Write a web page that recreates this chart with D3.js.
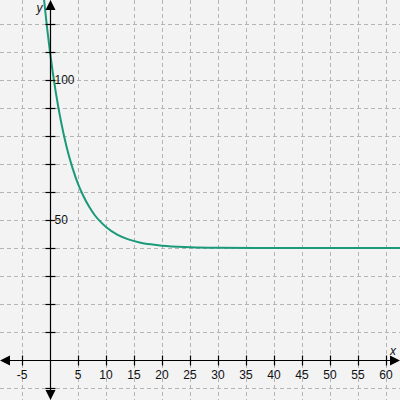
<!DOCTYPE html>
<html>
<head>
<meta charset="utf-8">
<script src="https://cdn.jsdelivr.net/npm/d3@7"></script>
<style>
  html, body { margin: 0; padding: 0; background: #f3f3f3; }
  svg { display: block; }
  text { font-family: "Liberation Sans", Arial, sans-serif; font-size: 12px; fill: #111; }
</style>
</head>
<body>
<div id="chart"></div>
<script>
// values
const curveX = [-1.1, -1, 0, 1, 2, 3, 4, 5, 6, 7, 8, 9, 10, 12, 14, 16, 18, 20, 25, 30, 40, 50, 62.5];
const curveY = [129.5, 127.5, 110, 96, 84.8, 75.8, 68.7, 62.9, 58.4, 54.7, 51.7, 49.4, 47.5, 44.8, 43.1, 42.0, 41.3, 40.8, 40.3, 40.1, 40, 40, 40];

const xTicks = [-5, 5, 10, 15, 20, 25, 30, 35, 40, 45, 50, 55, 60];
const xGrid = [-5, 0, 5, 10, 15, 20, 25, 30, 35, 40, 45, 50, 55, 60];
const yGrid = [-10, 10, 20, 30, 40, 50, 60, 70, 80, 90, 100, 110, 120];
const yTicks = [-10, 10, 20, 30, 40, 50, 60, 70, 80, 90, 100, 110, 120];
const yLabels = [50, 100];

const W = 400, H = 400;

const x = d3.scaleLinear().domain([-50 / 5.6, 350 / 5.6]).range([0, W]);
const y = d3.scaleLinear().domain([-40 / 2.8, 360 / 2.8]).range([H, 0]);

const svg = d3.select("#chart").append("svg")
  .attr("width", W).attr("height", H);

svg.append("rect").attr("width", W).attr("height", H).attr("fill", "#f3f3f3");

// dashed grid
const grid = svg.append("g")
  .attr("stroke", "#b4b4b4")
  .attr("stroke-width", 1)
  .attr("stroke-dasharray", "4,3");

grid.selectAll("line.v").data(xGrid).join("line")
  .attr("class", "v")
  .attr("x1", (d) => Math.round(x(d)) + 0.5).attr("x2", (d) => Math.round(x(d)) + 0.5)
  .attr("y1", 0).attr("y2", H);

grid.selectAll("line.h").data(yGrid).join("line")
  .attr("class", "h")
  .attr("y1", (d) => Math.round(y(d)) + 0.5).attr("y2", (d) => Math.round(y(d)) + 0.5)
  .attr("x1", 0).attr("x2", W);

// curve
const pts = curveX.map((d, i) => [d, curveY[i]]);
svg.append("path")
  .datum(pts)
  .attr("fill", "none")
  .attr("stroke", "#1a9a7a")
  .attr("stroke-width", 2)
  .attr("d", d3.line().x((d) => x(d[0])).y((d) => y(d[1])).curve(d3.curveMonotoneX));

// axes
const x0 = Math.round(x(0)) + 0.5;
const y0 = Math.round(y(0)) + 0.5;
const axes = svg.append("g").attr("stroke", "#000").attr("stroke-width", 1.2);

axes.append("line").attr("x1", 6).attr("x2", W - 6).attr("y1", y0).attr("y2", y0);
axes.append("line").attr("x1", x0).attr("x2", x0).attr("y1", 6).attr("y2", H - 6);

axes.selectAll("line.xt").data(xTicks).join("line")
  .attr("class", "xt")
  .attr("x1", (d) => Math.round(x(d)) + 0.5).attr("x2", (d) => Math.round(x(d)) + 0.5)
  .attr("y1", y0 - 5).attr("y2", y0 + 5);

axes.selectAll("line.yt").data(yTicks).join("line")
  .attr("class", "yt")
  .attr("y1", (d) => Math.round(y(d)) + 0.5).attr("y2", (d) => Math.round(y(d)) + 0.5)
  .attr("x1", x0 - 5).attr("x2", x0 + 5);

// arrow heads
const arrows = [
  [[x0, 0], [x0 - 5, 10], [x0 + 5, 10]],
  [[x0, H], [x0 - 5, H - 10], [x0 + 5, H - 10]],
  [[0, y0], [10, y0 - 5], [10, y0 + 5]],
  [[W, y0], [W - 10, y0 - 5], [W - 10, y0 + 5]],
];
svg.selectAll("path.arrow").data(arrows).join("path")
  .attr("class", "arrow")
  .attr("fill", "#000")
  .attr("d", (d) => "M" + d.join("L") + "Z");

// labels
svg.selectAll("text.xl").data(xTicks).join("text")
  .attr("class", "xl")
  .attr("x", (d) => x(d))
  .attr("y", y0 + 18)
  .attr("text-anchor", "middle")
  .text((d) => d);

svg.selectAll("text.yl").data(yLabels).join("text")
  .attr("class", "yl")
  .attr("x", x0 + 4)
  .attr("y", (d) => y(d) + 4)
  .text((d) => d);

svg.append("text").attr("x", W - 10).attr("y", y0 - 6)
  .attr("font-style", "italic").attr("font-size", "13px").text("x");
svg.append("text").attr("x", x0 - 14).attr("y", 12)
  .attr("font-style", "italic").attr("font-size", "13px").text("y");
</script>
</body>
</html>
